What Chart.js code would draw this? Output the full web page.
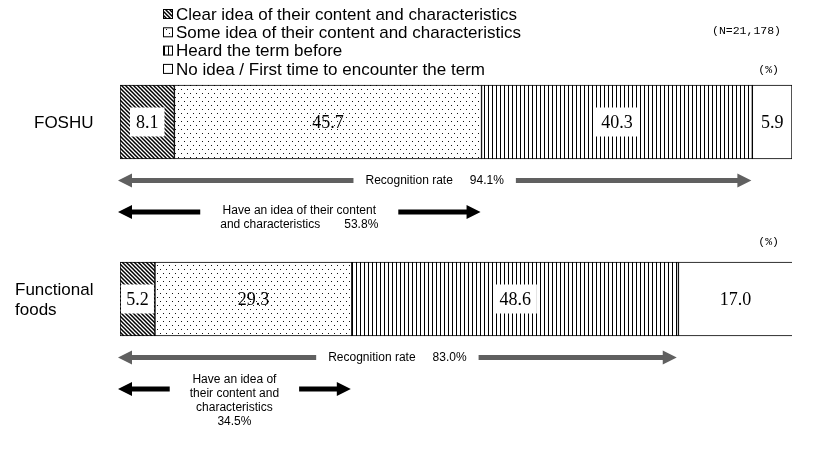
<!DOCTYPE html>
<html>
<head>
<meta charset="utf-8">
<script src="https://cdn.jsdelivr.net/npm/chart.js@4.4.1/dist/chart.umd.min.js"></script>
<style>
  html, body { margin: 0; padding: 0; background: #fff; }
  #wrap { position: relative; width: 817px; height: 458px; }
</style>
</head>
<body>
<div id="wrap"><canvas id="c"></canvas></div>
<script>
// data
const categories = ['FOSHU', 'Functional foods'];
const categoryLines = [['FOSHU'], ['Functional', 'foods']];
const seriesNames = [
  'Clear idea of their content and characteristics',
  'Some idea of their content and characteristics',
  'Heard the term before',
  'No idea / First time to encounter the term'
];
const clearIdea = [8.1, 5.2];
const someIdea = [45.7, 29.3];
const heardTerm = [40.3, 48.6];
const noIdea = [5.9, 17.0];
const recognitionRate = [94.1, 83.0];
const haveIdeaRate = [53.8, 34.5];
// '\t' = wide gap, {v} = rate
const haveIdeaText = [
  ['Have an idea of their content', 'and characteristics\t{v}'],
  ['Have an idea of', 'their content and', 'characteristics', '{v}']
];
const sampleNote = '(N=21,178)';
const unitNote = '(%)';

const SANS = '"Liberation Sans", Arial, sans-serif';
const SERIF = '"Liberation Serif", "Times New Roman", serif';
const MONO = '"Liberation Mono", monospace';

// fill patterns
function tile(w, h, draw) {
    const c = document.createElement('canvas');
    c.width = w; c.height = h;
    const g = c.getContext('2d');
    g.fillStyle = '#fff';
    g.fillRect(0, 0, w, h);
    draw(g);
    return g.createPattern(c, 'repeat');
}
const hatch = tile(4, 4, g => {
    g.strokeStyle = '#000';
    g.lineWidth = 1.5;
    g.beginPath();
    g.moveTo(-1, -1); g.lineTo(5, 5);
    g.moveTo(-1, 3); g.lineTo(1, 5);
    g.moveTo(3, -1); g.lineTo(5, 1);
    g.stroke();
});
const dots = tile(6, 8, g => {
    g.fillStyle = '#111';
    g.fillRect(1, 1, 1, 1);
    g.fillRect(4, 5, 1, 1);
});
const vlines = tile(4, 1, g => {
    g.fillStyle = '#000';
    g.fillRect(0, 0, 1, 1);
});
const fills = [hatch, dots, vlines, '#fff'];
const boxedLabel = [true, false, true, false];

function barGeom(chart, di, i) {
    const el = chart.getDatasetMeta(di).data[i];
    const p = el.getProps(['x', 'y', 'base', 'height'], true);
    return { x0: Math.min(p.base, p.x), x1: Math.max(p.base, p.x), y: p.y, top: p.y - p.height / 2, bottom: p.y + p.height / 2 };
}

// segment values
const valueLabels = {
    id: 'valueLabels',
    afterDatasetsDraw(chart) {
        const ctx = chart.ctx;
        ctx.save();
        ctx.font = '18px ' + SERIF;
        ctx.textAlign = 'center';
        ctx.textBaseline = 'middle';
        chart.data.datasets.forEach((ds, di) => {
            ds.data.forEach((v, i) => {
                const b = barGeom(chart, di, i);
                const cx = (b.x0 + b.x1) / 2;
                const txt = v.toFixed(1);
                if (boxedLabel[di]) {
                    const w = Math.min(ctx.measureText(txt).width + 12, b.x1 - b.x0 - 2);
                    ctx.fillStyle = '#fff';
                    ctx.fillRect(cx - w / 2, b.y - 14.5, w, 29);
                }
                ctx.fillStyle = '#000';
                ctx.fillText(txt, cx, b.y + 1);
            });
        });
        ctx.restore();
    }
};

function arrowHead(ctx, tipX, y, dir, len, half) {
    ctx.beginPath();
    ctx.moveTo(tipX, y);
    ctx.lineTo(tipX - dir * len, y - half);
    ctx.lineTo(tipX - dir * len, y + half);
    ctx.closePath();
    ctx.fill();
}
function splitArrow(ctx, xl, xr, y, gapL, gapR, color) {
    const len = 14, half = 7, th = 5;
    ctx.fillStyle = color;
    arrowHead(ctx, xl, y, -1, len, half);
    arrowHead(ctx, xr, y, 1, len, half);
    if (gapL > xl + len) ctx.fillRect(xl + len - 1, y - th / 2, gapL - xl - len + 1, th);
    if (xr - len > gapR) ctx.fillRect(gapR, y - th / 2, xr - len - gapR + 1, th);
}
function lineWidthOf(ctx, line, gap) {
    const parts = line.split('\t');
    return parts.reduce((s, p) => s + ctx.measureText(p).width, 0) + (parts.length - 1) * gap;
}
function drawLine(ctx, line, cx, y, gap) {
    const parts = line.split('\t');
    let x = cx - lineWidthOf(ctx, line, gap) / 2;
    parts.forEach(p => {
        ctx.fillText(p, x, y);
        x += ctx.measureText(p).width + gap;
    });
}

// recognition arrows, category names, legend, notes
const annotations = {
    id: 'annotations',
    afterDraw(chart) {
        const ctx = chart.ctx;
        const xs = chart.scales.x;
        ctx.save();
        ctx.textBaseline = 'middle';
        ctx.textAlign = 'left';

        categories.forEach((cat, i) => {
            const b = barGeom(chart, 0, i);
            const xl = xs.getPixelForValue(0) - 2;

            // gray: recognition rate
            ctx.font = '12px ' + SANS;
            const gy = b.bottom + 21.5;
            const gxr = xs.getPixelForValue(recognitionRate[i]) - 1;
            const gtxt = 'Recognition rate\t' + recognitionRate[i].toFixed(1) + '%';
            const gw = lineWidthOf(ctx, gtxt, 17);
            const gmid = (xl + gxr) / 2;
            splitArrow(ctx, xl, gxr, gy, gmid - gw / 2 - 12, gmid + gw / 2 + 12, '#606060');
            ctx.fillStyle = '#000';
            drawLine(ctx, gtxt, gmid, gy, 17);

            // black: have an idea
            const by = b.bottom + 53;
            const bxr = xs.getPixelForValue(haveIdeaRate[i]) - 1;
            const lines = haveIdeaText[i].map(l => l.replace('{v}', haveIdeaRate[i].toFixed(1) + '%'));
            const bw = Math.max(...lines.map(l => lineWidthOf(ctx, l, 24)));
            const bmid = (xl + bxr) / 2;
            splitArrow(ctx, xl, bxr, by, bmid - bw / 2 - 20, bmid + bw / 2 + 20, '#000');
            ctx.fillStyle = '#000';
            const firstY = by + (i === 0 ? -1 : -9);
            lines.forEach((l, k) => drawLine(ctx, l, bmid, firstY + k * 14, 24));

            // category name
            ctx.font = '17px ' + SANS;
            const nx = i === 0 ? 34 : 15;
            const nl = categoryLines[i];
            nl.forEach((l, k) => ctx.fillText(l, nx, b.y + 1 + (k - (nl.length - 1) / 2) * 20));

            // unit note
            ctx.font = '11.5px ' + MONO;
            ctx.textAlign = 'right';
            ctx.fillText(unitNote, 779, b.top - (i === 0 ? 15 : 20));
            ctx.textAlign = 'left';
        });

        ctx.font = '11.5px ' + MONO;
        ctx.textAlign = 'right';
        ctx.fillText(sampleNote, 781, 31);

        // legend
        ctx.textAlign = 'left';
        ctx.font = '17px ' + SANS;
        chart.data.datasets.forEach((ds, di) => {
            const y = 14 + di * 18.3;
            ctx.fillStyle = ds.backgroundColor;
            ctx.fillRect(163.5, y - 4.5, 9, 9);
            ctx.strokeStyle = '#000';
            ctx.lineWidth = 1;
            ctx.strokeRect(163.5, y - 4.5, 9, 9);
            ctx.fillStyle = '#000';
            ctx.fillText(ds.label, 176, y + 1);
        });
        ctx.restore();
    }
};

const series = [clearIdea, someIdea, heardTerm, noIdea];
new Chart(document.getElementById('c'), {
    type: 'bar',
    data: {
        labels: categories,
        datasets: series.map((d, k) => ({
            label: seriesNames[k],
            data: d,
            backgroundColor: fills[k],
            borderColor: '#000',
            borderWidth: 1,
            borderSkipped: false,
            barThickness: 74
        }))
    },
    options: {
        indexAxis: 'y',
        responsive: true,
        maintainAspectRatio: false,
        animation: false,
        layout: { padding: { left: 120, right: 25, top: 33.5, bottom: 70.5 } },
        scales: {
            x: { stacked: true, min: 0, max: 100, display: false },
            y: { stacked: true, display: false }
        },
        plugins: { legend: { display: false }, tooltip: { enabled: false } }
    },
    plugins: [valueLabels, annotations]
});
</script>
</body>
</html>
